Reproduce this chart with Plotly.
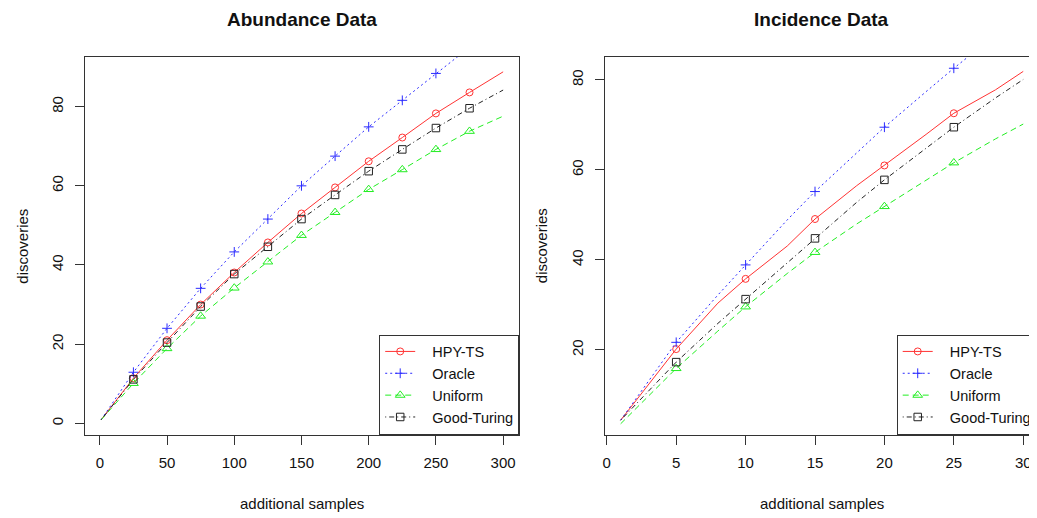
import plotly.graph_objects as go

# ---------------- data ----------------
abund_x = [1, 25, 50, 75, 100, 125, 150, 175, 200, 225, 250, 275, 300]
abund_hpy = [0.9, 11.4, 21.0, 30.0, 38.1, 45.7, 53.0, 59.6, 66.2, 72.2, 78.3, 83.6, 88.8]
abund_oracle = [0.9, 12.9, 24.0, 34.1, 43.3, 51.6, 60.0, 67.5, 74.9, 81.6, 88.4, 95.0, 101.3]
abund_uniform = [0.9, 10.1, 18.9, 27.1, 34.2, 40.8, 47.5, 53.3, 59.1, 64.1, 69.2, 73.8, 77.6]
abund_gt = [0.9, 11.1, 20.4, 29.5, 37.7, 44.6, 51.6, 57.7, 63.7, 69.2, 74.6, 79.6, 84.2]
abund_marker_x = [25, 50, 75, 100, 125, 150, 175, 200, 225, 250, 275]

inc_x = [1, 5, 8, 10, 13, 15, 18, 20, 23, 25, 28, 30]
inc_hpy = [4.4, 20.2, 30.4, 35.8, 43.1, 49.1, 56.5, 61.0, 67.9, 72.6, 77.8, 81.9]
inc_oracle = [4.4, 21.7, 32.2, 38.9, 48.9, 55.2, 63.9, 69.5, 77.4, 82.6, 90.0, 94.5]
inc_uniform = [3.6, 15.9, 24.2, 29.6, 37.0, 41.7, 48.0, 51.9, 57.8, 61.6, 66.9, 70.2]
inc_gt = [4.4, 17.3, 25.9, 31.3, 39.5, 44.8, 52.8, 57.8, 64.9, 69.5, 76.0, 80.1]
inc_marker_x = [5, 10, 15, 20, 25]

series_names = ["HPY-TS", "Oracle", "Uniform", "Good-Turing"]
abund_x_ticks = [0, 50, 100, 150, 200, 250, 300]
abund_y_ticks = [0, 20, 40, 60, 80]
inc_x_ticks = [0, 5, 10, 15, 20, 25, 30]
inc_y_ticks = [20, 40, 60, 80]

# ---------------- styles ----------------
styles = [
    dict(color="#FF3333", dash="solid", symbol="circle-open", size=7),
    dict(color="#2A2AFF", dash="2px,3px", symbol="cross-thin-open", size=7),
    dict(color="#22EE22", dash="6px,4px", symbol="triangle-up-open", size=8.5),
    dict(color="#222222", dash="1px,3px,5px,3px", symbol="square-open", size=7.5),
]
FONT = "Liberation Sans, Arial, sans-serif"
OFF = 8  # page body margin
W, H = 1037 - OFF, 518 - OFF


def px(xp):
    return (xp - OFF) / W


def py(yp):
    return 1 - (yp - OFF) / H


fig = go.Figure()


def add_panel(xs, ys_list, marker_x, xaxis, yaxis, legend):
    for name, ys, st in zip(series_names, ys_list, styles):
        fig.add_trace(go.Scatter(
            x=xs, y=ys, mode="lines", xaxis=xaxis, yaxis=yaxis,
            line=dict(color=st["color"], width=1, dash=st["dash"]),
            showlegend=False, hoverinfo="skip"))
        mx = [x for x in xs if x in marker_x]
        my = [y for x, y in zip(xs, ys) if x in marker_x]
        fig.add_trace(go.Scatter(
            x=mx, y=my, mode="markers", xaxis=xaxis, yaxis=yaxis,
            marker=dict(symbol=st["symbol"], size=st["size"], color=st["color"],
                        line=dict(width=1, color=st["color"])),
            showlegend=False, hoverinfo="skip"))
    for name, st in zip(series_names, styles):
        fig.add_trace(go.Scatter(
            x=[None], y=[None], mode="lines+markers", xaxis=xaxis, yaxis=yaxis,
            name="\u00a0\u00a0\u00a0" + name, legend=legend,
            line=dict(color=st["color"], width=1, dash=st["dash"]),
            marker=dict(symbol=st["symbol"], size=st["size"], color=st["color"],
                        line=dict(width=1, color=st["color"]))))


add_panel(abund_x, [abund_hpy, abund_oracle, abund_uniform, abund_gt],
          abund_marker_x, "x", "y", "legend")
add_panel(inc_x, [inc_hpy, inc_oracle, inc_uniform, inc_gt],
          inc_marker_x, "x2", "y2", "legend2")

box_top, box_bot = 57, 434.5
ydom = [py(box_bot), py(box_top)]
L1, R1 = 83.3, 518.7
L2 = 604.3

axis_common = dict(
    showline=True, linecolor="#333333", linewidth=1,
    ticks="outside", ticklen=9, tickcolor="#333333", tickwidth=1,
    showgrid=False, zeroline=False,
    tickfont=dict(family=FONT, size=15, color="#111111"),
)

legend_common = dict(
    yanchor="bottom", y=ydom[0],
    bgcolor="white", bordercolor="#333333", borderwidth=1,
    font=dict(family=FONT, size=14.5, color="#111111"),
    itemwidth=30, tracegroupgap=0,
)

fig.update_layout(
    width=W, height=H,
    margin=dict(l=0, r=0, t=0, b=0),
    paper_bgcolor="white", plot_bgcolor="white",
    font=dict(family=FONT, size=15, color="#111111"),
    xaxis=dict(domain=[px(L1), px(R1)], range=[-10.96, 311.96], anchor="y",
               tickvals=abund_x_ticks, mirror=True, ticklabelstandoff=5, **axis_common),
    yaxis=dict(domain=ydom, range=[-2.83, 92.55], anchor="x",
               tickvals=abund_y_ticks, mirror=True, tickangle=-90,
               ticklabelstandoff=6, **axis_common),
    xaxis2=dict(domain=[px(L2), 1.0], range=[-0.16, 30.92], anchor="y2",
                tickvals=inc_x_ticks, mirror=True, ticklabelstandoff=5, **axis_common),
    yaxis2=dict(domain=ydom, range=[1.22, 85.1], anchor="x2",
                tickvals=inc_y_ticks, mirror=False, tickangle=-90,
                ticklabelstandoff=6, **axis_common),
    legend=dict(x=px(R1), xanchor="right", **legend_common),
    legend2=dict(x=px(897.3), xanchor="left", **legend_common),
    showlegend=True,
)

annos = [
    dict(text="<b>Abundance Data</b>", x=px((L1 + R1) / 2), y=py(19), size=19),
    dict(text="<b>Incidence Data</b>", x=px((L2 + 1040) / 2), y=py(19), size=19),
    dict(text="additional samples", x=px((L1 + R1) / 2), y=py(503)),
    dict(text="additional samples", x=px((L2 + 1040) / 2), y=py(503)),
    dict(text="discoveries", x=px(21), y=py((box_top + box_bot) / 2), textangle=-90),
    dict(text="discoveries", x=px(541), y=py((box_top + box_bot) / 2), textangle=-90),
]
for a in annos:
    size = a.pop("size", 15)
    fig.add_annotation(xref="paper", yref="paper", showarrow=False,
                       xanchor="center", yanchor="middle",
                       font=dict(family=FONT, color="#111111", size=size), **a)

fig.write_html("out.html")
